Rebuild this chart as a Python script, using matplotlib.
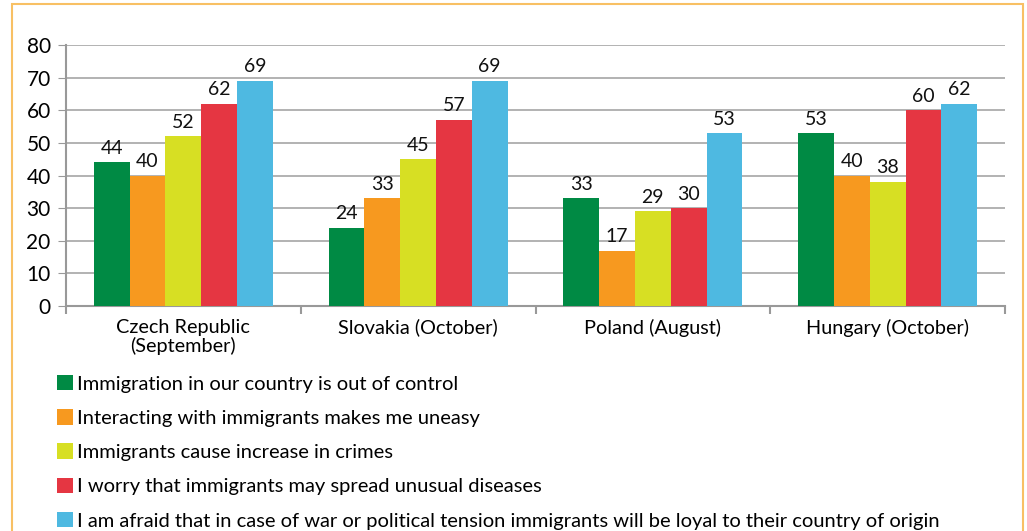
import matplotlib.pyplot as plt
import numpy as np
from matplotlib.patches import Rectangle

categories = ["Czech Republic\n(September)", "Slovakia (October)", "Poland (August)", "Hungary (October)"]
series_labels = [
    "Immigration in our country is out of control",
    "Interacting with immigrants makes me uneasy",
    "Immigrants cause increase in crimes",
    "I worry that immigrants may spread unusual diseases",
    "I am afraid that in case of war or political tension immigrants will be loyal to their country of origin",
]
out_of_control = [44, 24, 33, 53]
uneasy = [40, 33, 17, 40]
crimes = [52, 45, 29, 38]
diseases = [62, 57, 30, 60]
loyal = [69, 69, 53, 62]
colors = ["#008A44", "#F7991F", "#D7DF23", "#E53642", "#4EB9E1"]

plt.rcParams["font.family"] = ["Lato", "DejaVu Sans"]

fig = plt.figure(figsize=(10.27, 5.31), dpi=100)
ax = fig.add_axes([66 / 1027, 1 - 306 / 531, 939 / 1027, 261 / 531])

series = [out_of_control, uneasy, crimes, diseases, loyal]
x = np.arange(len(categories))
w = 0.1525
handles = []
for i, (vals, col) in enumerate(zip(series, colors)):
    pos = x + (i - 2) * w
    bars = ax.bar(pos, vals, width=w, color=col, zorder=3)
    handles.append(bars)
    for p, v in zip(pos, vals):
        ax.annotate(str(v), (p, v), xytext=(0, 4), textcoords="offset points",
                    ha="center", va="bottom", fontsize=14, color="#111111")

ax.set_xlim(-0.5, len(categories) - 0.5)
ax.set_ylim(0, 80)
ax.set_yticks(range(0, 81, 10))
ax.yaxis.grid(True, color="#A6A6A6", linewidth=1.2, zorder=0)
ax.set_axisbelow(True)
for s in ["top", "right"]:
    ax.spines[s].set_visible(False)
for s in ["left", "bottom"]:
    ax.spines[s].set_color("#999999")
    ax.spines[s].set_linewidth(1.5)
ax.tick_params(axis="y", length=6, color="#999999", labelsize=15, pad=5)
ax.set_xticks(x)
ax.set_xticklabels(categories, fontsize=14.3, linespacing=1.1)
ax.tick_params(axis="x", length=0, pad=9)
ax.set_xticks(np.arange(-0.5, len(categories)), minor=True)
ax.tick_params(axis="x", which="minor", length=6, color="#999999", width=1.5)

fig.legend(handles, series_labels, loc="upper left", bbox_to_anchor=(49 / 1027, 1 - 367 / 531),
           frameon=False, fontsize=14.5, handlelength=0.8, handleheight=0.8,
           handletextpad=0.2, labelspacing=0.82, borderaxespad=0)

fig.patches.append(Rectangle((12 / 1027, -0.05), 1011 / 1027, 1.05 - 4 / 531,
                             transform=fig.transFigure, fill=False,
                             edgecolor="#F8C064", linewidth=1.5))

fig.savefig("out.png", dpi=100)
